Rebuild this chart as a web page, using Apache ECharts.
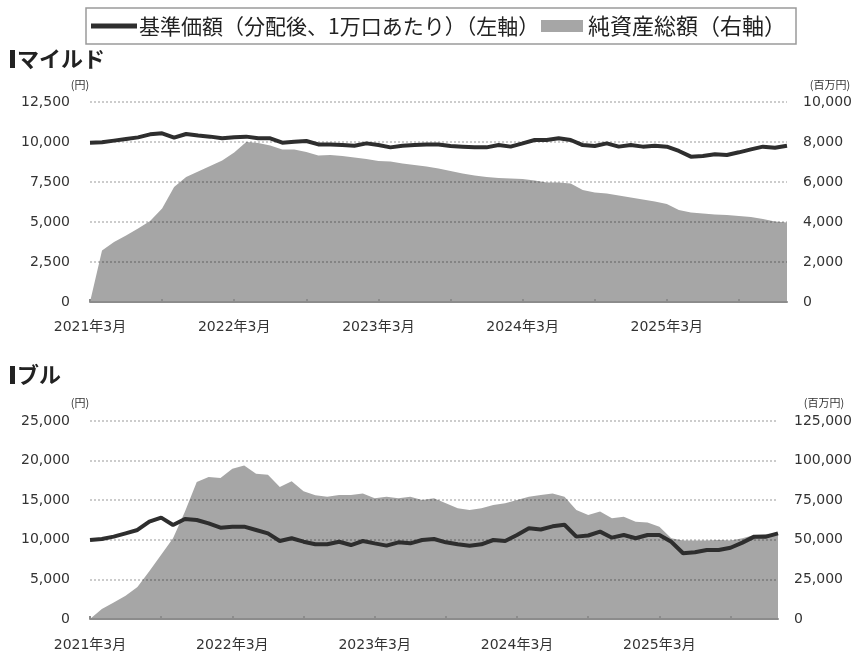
<!DOCTYPE html>
<html>
<head>
<meta charset="utf-8">
<script src="https://cdn.jsdelivr.net/npm/echarts@6/dist/echarts.min.js"></script>
<style>
html,body{margin:0;padding:0;background:#fff;}
#chart{width:859px;height:657px;}
</style>
</head>
<body>
<div id="chart"></div>
<script>
// ---- categories (monthly, 2021-03 .. 2026-01) ----
const months = [
 '2021-03','2021-04','2021-05','2021-06','2021-07','2021-08','2021-09','2021-10','2021-11','2021-12',
 '2022-01','2022-02','2022-03','2022-04','2022-05','2022-06','2022-07','2022-08','2022-09','2022-10',
 '2022-11','2022-12','2023-01','2023-02','2023-03','2023-04','2023-05','2023-06','2023-07','2023-08',
 '2023-09','2023-10','2023-11','2023-12','2024-01','2024-02','2024-03','2024-04','2024-05','2024-06',
 '2024-07','2024-08','2024-09','2024-10','2024-11','2024-12','2025-01','2025-02','2025-03','2025-04',
 '2025-05','2025-06','2025-07','2025-08','2025-09','2025-10','2025-11','2025-12','2026-01'
];

// ---- マイルド ----
const mildNav = [
 9960,9980,10085,10190,10290,10480,10540,10270,10500,10400,
 10335,10230,10290,10335,10230,10230,9960,10020,10060,9850,
 9850,9810,9770,9915,9810,9665,9770,9810,9850,9850,
 9750,9710,9665,9665,9810,9710,9915,10125,10125,10230,
 10125,9810,9750,9915,9710,9810,9710,9770,9710,9440,
 9085,9125,9230,9190,9355,9540,9710,9645,9770
];
const mildAssets = [
 0,2580,3000,3330,3670,4050,4670,5750,6250,6530,
 6800,7080,7470,8000,7950,7830,7620,7620,7500,7330,
 7350,7300,7220,7150,7050,7020,6930,6850,6770,6680,
 6550,6430,6320,6250,6200,6180,6150,6080,5980,5980,
 5930,5600,5480,5430,5320,5220,5120,5020,4900,4600,
 4480,4430,4380,4350,4300,4250,4150,4020,3970
];

// ---- ブル ----
const bullNav = [
 9975,10100,10400,10820,11240,12290,12800,11870,12630,12500,
 12080,11530,11660,11660,11240,10820,9850,10190,9760,9430,
 9430,9760,9340,9850,9550,9260,9680,9550,9975,10100,
 9680,9430,9260,9430,9975,9850,10600,11450,11300,11700,
 11900,10400,10540,11030,10270,10600,10190,10600,10600,9760,
 8300,8420,8710,8710,9000,9640,10400,10400,10820
];
const bullAssets = [
 0,6250,10400,14600,20200,30200,40600,51000,67700,86500,
 89600,89000,94800,96900,91700,91000,83300,86900,80600,78100,
 77200,78300,78300,79300,76200,77200,76200,77200,75100,76200,
 73000,69900,68800,69900,72000,73000,75100,77200,78300,79300,
 77200,68800,65700,67800,63600,64600,61400,61000,58300,50900,
 49500,49500,49500,49800,49500,50900,53000,53700,54100
];

// ---- tick settings ----
const mildLeft = {min:0, max:12500, interval:2500};
const mildRight = {min:0, max:10000, interval:2000};
const bullLeft = {min:0, max:25000, interval:5000};
const bullRight = {min:0, max:125000, interval:25000};

const navName = '基準価額（分配後、1万口あたり）（左軸）';
const assetName = '純資産総額（右軸）';

const FONT = "'DejaVu Sans','Noto Sans CJK JP',sans-serif";
const JP = "'Noto Sans CJK JP',sans-serif";
const LINE_C = '#2e2e2e';
const AREA_C = '#a6a6a6';
const fmt = v => Number(v).toLocaleString('en-US');
const monthLabel = s => { const p = s.split('-'); return p[0] + '年' + parseInt(p[1], 10) + '月'; };

function xAxis(gridIndex, margin) {
  return {
    type:'category', gridIndex, data: months, boundaryGap:false, z:3,
    axisLine:{show:true, lineStyle:{color:'#8c8c8c', width:2}},
    axisTick:{show:true, inside:true, length:3, interval:5, lineStyle:{color:'#8c8c8c', width:2}},
    axisLabel:{interval:11, formatter:monthLabel, color:'#333', fontSize:14, fontFamily:FONT, margin},
    splitLine:{show:false}
  };
}
function yAxis(gridIndex, pos, cfg, grid, margin) {
  return Object.assign({
    type:'value', gridIndex, position:pos, z:3,
    axisLine:{show:false}, axisTick:{show:false},
    axisLabel:{formatter:fmt, color:'#333', fontSize:14, fontFamily:FONT, margin},
    splitLine: grid ? {show:true, lineStyle:{color:'rgba(0,0,0,0.2)', width:2, type:[2,2]}} : {show:false}
  }, cfg);
}

const chart = echarts.init(document.getElementById('chart'), null, {renderer:'canvas'});
chart.setOption({
  animation:false,
  backgroundColor:'#fff',
  grid:[
    {left:90, right:72, top:102, height:200},
    {left:90, right:81, top:421, height:198}
  ],
  xAxis:[xAxis(0, 18), xAxis(1, 19)],
  yAxis:[
    yAxis(0,'left',mildLeft,true,20),
    yAxis(0,'right',mildRight,false,16),
    yAxis(1,'left',bullLeft,true,20),
    yAxis(1,'right',bullRight,false,16)
  ],
  series:[
    {name:assetName, type:'line', xAxisIndex:0, yAxisIndex:1, data:mildAssets, symbol:'none', z:2,
     lineStyle:{width:0}, areaStyle:{color:AREA_C, opacity:1}},
    {name:navName, type:'line', xAxisIndex:0, yAxisIndex:0, data:mildNav, symbol:'none', z:5,
     lineStyle:{color:LINE_C, width:4}},
    {name:assetName, type:'line', xAxisIndex:1, yAxisIndex:3, data:bullAssets, symbol:'none', z:2,
     lineStyle:{width:0}, areaStyle:{color:AREA_C, opacity:1}},
    {name:navName, type:'line', xAxisIndex:1, yAxisIndex:2, data:bullNav, symbol:'none', z:5,
     lineStyle:{color:LINE_C, width:4}}
  ],
  graphic:[
    // legend
    {type:'rect', shape:{x:86, y:8, width:710, height:36}, style:{fill:'#fff', stroke:'#9a9a9a', lineWidth:1.5}},
    {type:'line', shape:{x1:91, y1:26, x2:137, y2:26}, style:{stroke:LINE_C, lineWidth:5}},
    {type:'text', x:139, y:26, style:{text:navName, font:'21px ' + JP, fill:'#222', textVerticalAlign:'middle', verticalAlign:'middle'}},
    {type:'rect', shape:{x:541, y:20, width:42, height:12}, style:{fill:AREA_C}},
    {type:'text', x:588, y:26, style:{text:assetName, font:'22px ' + JP, fill:'#222', textVerticalAlign:'middle', verticalAlign:'middle'}},
    // titles
    {type:'rect', shape:{x:10, y:50, width:5, height:18}, style:{fill:'#222'}},
    {type:'text', x:17, y:59, style:{text:'マイルド', font:'bold 22px ' + JP, fill:'#222', textVerticalAlign:'middle', verticalAlign:'middle'}},
    {type:'rect', shape:{x:10, y:366, width:5, height:18}, style:{fill:'#222'}},
    {type:'text', x:17, y:375, style:{text:'ブル', font:'bold 22px ' + JP, fill:'#222', textVerticalAlign:'middle', verticalAlign:'middle'}},
    // units
    {type:'text', x:80, y:85, style:{text:'(円)', font:'11px ' + JP, fill:'#333', textAlign:'center', align:'center', textVerticalAlign:'middle', verticalAlign:'middle'}},
    {type:'text', x:830, y:85, style:{text:'(百万円)', font:'11px ' + JP, fill:'#333', textAlign:'center', align:'center', textVerticalAlign:'middle', verticalAlign:'middle'}},
    {type:'text', x:80, y:403, style:{text:'(円)', font:'11px ' + JP, fill:'#333', textAlign:'center', align:'center', textVerticalAlign:'middle', verticalAlign:'middle'}},
    {type:'text', x:824, y:403, style:{text:'(百万円)', font:'11px ' + JP, fill:'#333', textAlign:'center', align:'center', textVerticalAlign:'middle', verticalAlign:'middle'}}
  ]
});
</script>
</body>
</html>
